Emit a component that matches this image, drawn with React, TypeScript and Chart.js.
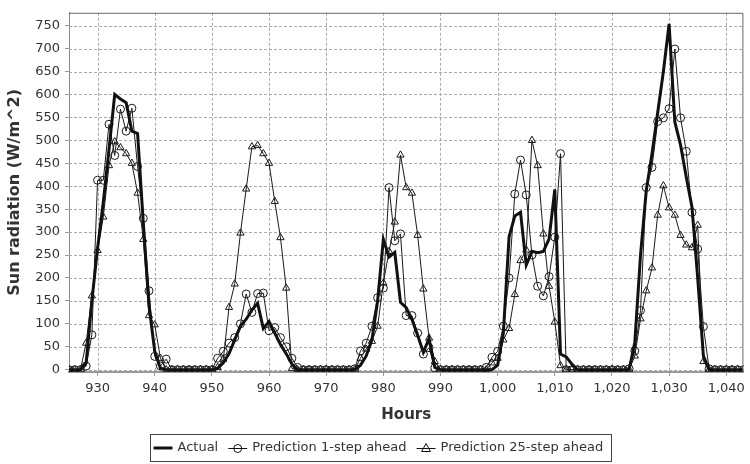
import React, { useEffect, useRef } from 'react';
import { Chart, registerables } from 'chart.js';

Chart.register(...registerables);

// Hours 925 .. 1043 (x categories)
const FIRST_HOUR = 925;
const LAST_HOUR = 1043;
const hours: number[] = [];
for (let h = FIRST_HOUR; h <= LAST_HOUR; h++) hours.push(h);

const actual = [
  0, 0, 0, 15, 150, 265, 365, 480, 600, 590,
  582, 520, 515, 320, 140, 40, 3, 0, 0, 0,
  0, 0, 0, 0, 0, 0, 3, 15, 35, 65,
  95, 110, 130, 145, 90, 105, 80, 55, 35, 12,
  0, 0, 0, 0, 0, 0, 0, 0, 0, 0,
  0, 10, 30, 65, 150, 284, 246, 256, 147, 135,
  110, 75, 38, 68, 5, 0, 0, 0, 0, 0,
  0, 0, 0, 0, 0, 10, 80, 290, 335, 343,
  228, 258, 255, 258, 285, 393, 34, 28, 12, 0,
  0, 0, 0, 0, 0, 0, 0, 0, 0, 60,
  250, 390, 470, 560, 650, 754, 540, 490, 420, 355,
  200, 30, 0, 0, 0, 0, 0, 0, 0,
];

const pred1 = [
  0, 0, 0, 8, 76, 413, 413, 535, 467, 568,
  520, 570, 443, 330, 172, 29, 8, 23, 0, 0,
  0, 0, 0, 0, 0, 0, 25, 40, 58, 70,
  100, 165, 125, 166, 167, 85, 92, 70, 50, 25,
  5, 0, 0, 0, 0, 0, 0, 0, 0, 0,
  2, 41, 58, 95, 157, 178, 397, 281, 296, 118,
  118, 80, 34, 48, 4, 0, 0, 0, 0, 0,
  0, 0, 0, 5, 27, 40, 95, 200, 383, 457,
  381, 250, 182, 161, 203, 289, 471, 0, 0, 0,
  0, 0, 0, 0, 0, 0, 0, 0, 2, 41,
  129, 397, 441, 541, 549, 569, 699, 549, 476, 343,
  263, 94, 2, 0, 0, 0, 0, 0, 0,
];

const pred25 = [
  0, 0, 0, 58, 161, 260, 333, 445, 497, 484,
  471, 450, 385, 284, 118, 98, 25, 0, 0, 0,
  0, 0, 0, 0, 0, 0, 5, 23, 136, 187,
  298, 394, 486, 489, 471, 450, 367, 288, 178, 3,
  0, 0, 0, 0, 0, 0, 0, 0, 0, 0,
  0, 25, 45, 62, 95, 189, 258, 322, 468, 397,
  385, 293, 176, 69, 18, 0, 0, 0, 0, 0,
  0, 0, 0, 0, 15, 25, 65, 90, 164, 238,
  261, 500, 445, 296, 182, 104, 9, 0, 0, 0,
  0, 0, 0, 0, 0, 0, 0, 0, 0, 30,
  111, 172, 222, 337, 401, 353, 337, 293, 272, 266,
  315, 18, 0, 0, 0, 0, 0, 0, 0,
];

const seriesNames = ['Actual', 'Prediction 1-step ahead', 'Prediction 25-step ahead'];
const xTitle = 'Hours';
const yTitle = 'Sun radiation (W/m^2)';
const X_MIN = 925;
const X_MAX = 1043;
const X_STEP = 10;
const Y_MIN = -5;
const Y_MAX = 778;
const Y_STEP = 50;

const FONT = '"DejaVu Sans", Verdana, sans-serif';
const TEXT = '#333333';

const gridPlugin = {
  id: 'dashGrid',
  beforeDatasetsDraw(chart: any) {
    const { ctx, chartArea: a, scales } = chart;
    const x = scales.x;
    const y = scales.y;
    ctx.save();
    ctx.strokeStyle = '#aaaaaa';
    ctx.lineWidth = 1;
    ctx.setLineDash([3, 2]);
    x.ticks.forEach((t: any) => {
      const px = Math.round(x.getPixelForValue(t.value)) + 0.5;
      ctx.beginPath();
      ctx.moveTo(px, a.top);
      ctx.lineTo(px, a.bottom);
      ctx.stroke();
    });
    y.ticks.forEach((t: any) => {
      const py = Math.round(y.getPixelForValue(t.value)) + 0.5;
      ctx.beginPath();
      ctx.moveTo(a.left, py);
      ctx.lineTo(a.right, py);
      ctx.stroke();
    });
    ctx.restore();
  },
  afterDraw(chart: any) {
    const { ctx, chartArea: a } = chart;
    ctx.save();
    ctx.strokeStyle = '#666';
    ctx.lineWidth = 1;
    ctx.beginPath();
    ctx.moveTo(a.left, a.top + 0.5);
    ctx.lineTo(a.right - 0.5, a.top + 0.5);
    ctx.lineTo(a.right - 0.5, a.bottom);
    ctx.stroke();
    ctx.restore();
  },
};

function drawSymbol(ctx: CanvasRenderingContext2D, kind: number, x0: number, yc: number, w: number) {
  ctx.save();
  ctx.strokeStyle = '#111';
  ctx.setLineDash([]);
  if (kind === 0) {
    ctx.lineWidth = 3;
    ctx.beginPath();
    ctx.moveTo(x0, yc);
    ctx.lineTo(x0 + w, yc);
    ctx.stroke();
  } else {
    ctx.lineWidth = 1;
    ctx.beginPath();
    ctx.moveTo(x0, yc + 0.5);
    ctx.lineTo(x0 + w, yc + 0.5);
    ctx.stroke();
    const cx = x0 + w / 2;
    ctx.beginPath();
    if (kind === 1) {
      ctx.arc(cx, yc + 0.5, 4, 0, Math.PI * 2);
    } else {
      ctx.moveTo(cx, yc - 4.5);
      ctx.lineTo(cx + 4.5, yc + 3.5);
      ctx.lineTo(cx - 4.5, yc + 3.5);
      ctx.closePath();
    }
    ctx.stroke();
  }
  ctx.restore();
}

const legendPlugin = {
  id: 'boxLegend',
  afterDraw(chart: any) {
    const { ctx } = chart;
    ctx.save();
    ctx.font = `13px ${FONT}`;
    const symW = 19;
    const gapSym = 5;
    const gapItem = 10;
    const padL = 3;
    const padR = 8;
    const widths = seriesNames.map((s) => ctx.measureText(s).width);
    let total = padL + padR;
    widths.forEach((w, i) => {
      total += symW + gapSym + w + (i < widths.length - 1 ? gapItem : 0);
    });
    const cxBox = 380;
    const top = 434;
    const h = 27;
    const left = Math.round(cxBox - total / 2) + 0.5;
    ctx.strokeStyle = '#444';
    ctx.lineWidth = 1;
    ctx.strokeRect(left, top + 0.5, Math.round(total), h);
    const yc = top + h / 2 + 0.5;
    let x = left + padL;
    ctx.fillStyle = TEXT;
    ctx.textBaseline = 'middle';
    ctx.textAlign = 'left';
    seriesNames.forEach((s, i) => {
      drawSymbol(ctx, i, x, Math.round(yc), symW);
      x += symW + gapSym;
      ctx.fillText(s, x, yc);
      x += widths[i] + gapItem;
    });
    ctx.restore();
  },
};

export default function App() {
  const ref = useRef<HTMLCanvasElement | null>(null);
  useEffect(() => {
    if (!ref.current) return;
    Chart.defaults.font.family = FONT;
    const toPts = (arr: number[]) => hours.map((h, i) => ({ x: h, y: arr[i] }));
    const chart = new Chart(ref.current, {
      type: 'line',
      data: {
        datasets: [
          {
            label: seriesNames[0],
            data: toPts(actual),
            borderColor: '#111',
            borderWidth: 3,
            pointRadius: 0,
            tension: 0,
          },
          {
            label: seriesNames[1],
            data: toPts(pred1),
            borderColor: '#1a1a1a',
            borderWidth: 1,
            pointStyle: 'circle',
            pointRadius: 4,
            pointBorderWidth: 1,
            pointBorderColor: '#1a1a1a',
            pointBackgroundColor: 'rgba(0,0,0,0)',
            tension: 0,
          },
          {
            label: seriesNames[2],
            data: toPts(pred25),
            borderColor: '#1a1a1a',
            borderWidth: 1,
            pointStyle: 'triangle',
            pointRadius: 4.2,
            pointBorderWidth: 1,
            pointBorderColor: '#1a1a1a',
            pointBackgroundColor: 'rgba(0,0,0,0)',
            tension: 0,
          },
        ],
      } as any,
      options: {
        animation: false,
        responsive: false,
        maintainAspectRatio: false,
        layout: { padding: { top: 2, right: 5, left: 0, bottom: 37 } },
        plugins: {
          legend: { display: false },
          tooltip: { enabled: false },
        },
        scales: {
          x: {
            type: 'linear',
            min: X_MIN,
            max: X_MAX,
            afterBuildTicks: (s: any) => {
              s.ticks = s.ticks.filter((t: any) => t.value % X_STEP === 0);
            },
            afterFit: (s: any) => {
              s.height = 55;
            },
            ticks: {
              stepSize: X_STEP,
              includeBounds: false,
              autoSkip: false,
              maxRotation: 0,
              padding: 5,
              color: TEXT,
              font: { size: 13 },
              callback: (v: any) => Number(v).toLocaleString('en-US'),
            },
            grid: { drawOnChartArea: false, tickLength: 4, tickColor: '#999' },
            border: { display: true, color: '#999', width: 2 },
            title: {
              display: true,
              text: xTitle,
              color: TEXT,
              font: { size: 15, weight: 'bold' },
              padding: { top: 0, bottom: 3 },
            },
          },
          y: {
            type: 'linear',
            min: Y_MIN,
            max: Y_MAX,
            afterBuildTicks: (s: any) => {
              s.ticks = s.ticks.filter((t: any) => t.value >= 0 && t.value % Y_STEP === 0);
            },
            afterFit: (s: any) => {
              s.width = 69;
            },
            ticks: {
              stepSize: Y_STEP,
              includeBounds: false,
              autoSkip: false,
              padding: 5,
              color: TEXT,
              font: { size: 13 },
            },
            grid: { drawOnChartArea: false, tickLength: 4, tickColor: '#999' },
            border: { display: true, color: '#888', width: 1 },
            title: {
              display: true,
              text: yTitle,
              color: TEXT,
              font: { size: 16, weight: 'bold' },
              padding: { top: 5, bottom: 0 },
            },
          },
        },
      } as any,
      plugins: [gridPlugin, legendPlugin],
    });
    return () => chart.destroy();
  }, []);
  return (
    <div style={{ position: 'absolute', left: 0, top: 0, width: 750, height: 464, background: '#fff' }}>
      <canvas ref={ref} width={750} height={464} style={{ display: 'block', width: 750, height: 464 }} />
    </div>
  );
}
